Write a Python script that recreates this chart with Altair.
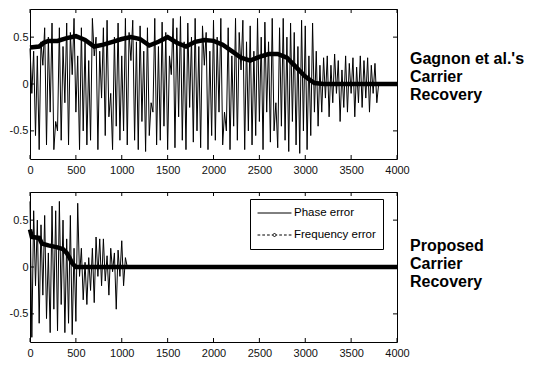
import altair as alt
import pandas as pd

# ---------------- data ----------------
x_ticks = [0, 500, 1000, 1500, 2000, 2500, 3000, 3500, 4000]
y_ticks = [-0.5, 0, 0.5]

# top panel: phase error sampled every 20 samples (0..3800), then 0 at 4000
top_phase = [
    0.38, -0.1, 0.35, -0.55, 0.3, -0.7, 0.45, 0.2, 0.6, -0.65,
    0.5, -0.3, 0.65, -0.7, -0.4, -0.5, 0.6, -0.6, 0.4, -0.2,
    0.65, -0.65, 0.55, 0.1, 0.7, -0.3, 0.3, -0.7, 0.6, -0.5,
    0.45, -0.65, 0.25, -0.6, 0.7, 0.3, 0.5, -0.7, 0.35, -0.15,
    0.6, -0.55, 0.68, -0.35, -0.1, -0.7, 0.5, -0.45, 0.65, -0.6,
    0.3, -0.5, 0.7, -0.65, 0.55, 0.25, 0.68, -0.6, 0.45, -0.7,
    0.62, -0.4, 0.35, -0.72, 0.6, -0.55, -0.2, -0.3, 0.7, -0.65,
    0.4, -0.6, 0.66, -0.45, 0.55, -0.7, 0.3, 0.1, 0.7, -0.68,
    0.6, -0.35, 0.72, -0.6, 0.45, -0.7, 0.65, -0.25, 0.5, -0.62,
    0.7, -0.5, 0.4, -0.68, 0.62, 0.2, 0.55, -0.7, 0.35, -0.55,
    0.68, -0.6, 0.5, -0.3, 0.7, -0.65, -0.3, -0.5, 0.6, -0.7,
    0.3, -0.45, 0.7, -0.6, 0.55, 0.15, 0.68, -0.7, 0.45, -0.5,
    0.62, -0.65, 0.35, -0.55, 0.7, -0.4, 0.5, -0.7, 0.66, -0.3,
    0.45, -0.62, 0.7, -0.5, -0.2, -0.68, 0.6, -0.45, 0.7, -0.6,
    0.5, -0.72, 0.65, -0.4, 0.55, -0.65, 0.4, -0.74, 0.68, -0.5,
    0.62, -0.7, 0.3, -0.55, 0.65, -0.3, 0.35, -0.45, 0.2, -0.3,
    0.28, -0.15, 0.3, -0.35, 0.2, -0.2, 0.32, -0.1, 0.25, -0.4,
    0.15, -0.25, 0.3, -0.3, 0.22, -0.1, 0.28, -0.35, 0.18, -0.2,
    0.3, -0.25, 0.25, -0.15, 0.28, -0.3, 0.2, -0.1, 0.22, -0.2,
    0.0, 0.0,
]
top_phase_x = list(range(0, 3801, 20)) + [4000]

# top panel: frequency error
top_freq_x = [0, 100, 150, 200, 300, 400, 500, 600, 700, 800, 900, 1000, 1100,
              1200, 1300, 1400, 1500, 1600, 1700, 1800, 1900, 2000, 2100, 2200,
              2300, 2400, 2500, 2600, 2700, 2800, 2900, 3000, 3100, 3200, 3400,
              3600, 3800, 4000]
top_freq = [0.39, 0.40, 0.44, 0.46, 0.46, 0.49, 0.51, 0.47, 0.40, 0.42, 0.45,
            0.48, 0.50, 0.48, 0.41, 0.45, 0.50, 0.44, 0.40, 0.45, 0.47, 0.46,
            0.42, 0.35, 0.28, 0.25, 0.29, 0.32, 0.32, 0.28, 0.18, 0.08, 0.01,
            0.0, 0.0, 0.0, 0.0, 0.0]

# bottom panel: phase error every 20 samples (0..1060), then 0 at 4000
bot_phase = [
    0.7, -0.75, 0.6, -0.2, 0.5, -0.6, 0.45, -0.3, 0.55, -0.55,
    0.15, -0.7, 0.65, -0.45, 0.6, -0.68, 0.7, -0.4, 0.5, -0.7,
    0.3, -0.6, 0.55, -0.72, 0.2, -0.58, 0.68, -0.1, 0.2, -0.35,
    0.05, -0.4, 0.1, -0.25, 0.2, -0.38, 0.32, -0.1, 0.3, -0.2,
    0.3, -0.15, 0.12, -0.3, 0.2, -0.05, 0.15, -0.45, 0.18, -0.1,
    0.28, -0.2, 0.1, 0.0,
    0.0,
]
bot_phase_x = list(range(0, 1061, 20)) + [4000]

# bottom panel: frequency error
bot_freq_x = [0, 20, 100, 130, 200, 300, 360, 400, 430, 460, 500, 1000, 2000,
              3000, 4000]
bot_freq = [0.40, 0.32, 0.31, 0.25, 0.23, 0.21, 0.19, 0.15, 0.10, 0.04, 0.0,
            0.0, 0.0, 0.0, 0.0]

series_names = ["Phase error", "Frequency error"]
top_label = ["Gagnon et al.'s", "Carrier", "Recovery"]
bot_label = ["Proposed", "Carrier", "Recovery"]

# ---------------- chart ----------------
W, H = 367, 150
FONT = "Liberation Sans, Arial"
xs = alt.Scale(domain=[0, 4000], nice=False)
ys = alt.Scale(domain=[-0.8, 0.8], nice=False)

x_axis = alt.Axis(values=x_ticks, title=None, grid=False, ticks=False, domain=False,
                  labelFont=FONT, labelFontSize=11, labelColor="#111",
                  labelPadding=5, labelFlush=False, labelExpr="'' + datum.value")
y_axis = alt.Axis(values=y_ticks, title=None, grid=False, ticks=False, domain=False,
                  labelFont=FONT, labelFontSize=11, labelColor="#111",
                  labelPadding=2, labelExpr="'' + datum.value")

xt = pd.DataFrame({"x": x_ticks})
yt = pd.DataFrame({"y": y_ticks})


def tick_layers():
    bot = alt.Chart(xt).mark_rule(color="black", strokeWidth=1).encode(
        x=alt.X("x:Q", scale=xs), y=alt.value(H), y2=alt.value(H - 4))
    top = alt.Chart(xt).mark_rule(color="black", strokeWidth=1).encode(
        x=alt.X("x:Q", scale=xs), y=alt.value(0), y2=alt.value(4))
    left = alt.Chart(yt).mark_rule(color="black", strokeWidth=1).encode(
        y=alt.Y("y:Q", scale=ys), x=alt.value(0), x2=alt.value(4))
    right = alt.Chart(yt).mark_rule(color="black", strokeWidth=1).encode(
        y=alt.Y("y:Q", scale=ys), x=alt.value(W - 4), x2=alt.value(W))
    return [bot, top, left, right]


def panel(px, py, fx, fy, label, label_y, with_legend):
    pdf = pd.DataFrame({"x": px, "y": py})
    fdf = pd.DataFrame({"x": fx, "y": fy})
    phase = alt.Chart(pdf).mark_line(color="black", strokeWidth=1).encode(
        x=alt.X("x:Q", scale=xs, axis=x_axis),
        y=alt.Y("y:Q", scale=ys, axis=y_axis),
        order="x:Q",
    )
    freq = alt.Chart(fdf).mark_line(color="black", strokeWidth=4.5, clip=False).encode(
        x=alt.X("x:Q", scale=xs), y=alt.Y("y:Q", scale=ys))
    txt = alt.Chart(pd.DataFrame({"t": ["\n".join(label)]})).mark_text(
        align="left", baseline="top", lineBreak="\n", lineHeight=18,
        font=FONT, fontSize=16, fontWeight="bold", color="black",
    ).encode(text="t:N", x=alt.value(W + 13), y=alt.value(label_y))
    layers = [phase, freq] + tick_layers() + [txt]
    if with_legend:
        ldf = pd.DataFrame({"s": series_names})
        leg = alt.Chart(ldf).mark_point(filled=False, opacity=0, color="black",
                                         strokeWidth=1).encode(
            x=alt.value(0), y=alt.value(0),
            shape=alt.Shape(
                "s:N",
                scale=alt.Scale(
                    domain=series_names,
                    range=[
                        "M-1,0H1",
                        "M-1,0H-0.84M-0.72,0H-0.56M-0.44,0H-0.28M-0.16,0H-0.1"
                        "M0.1,0H0.16M0.28,0H0.44M0.56,0H0.72M0.84,0H1"
                        "M0.09,0A0.09,0.09 0 1,1 -0.09,0A0.09,0.09 0 1,1 0.09,0Z",
                    ],
                ),
                legend=alt.Legend(
                    title=None, orient="none", legendX=220, legendY=7,
                    strokeColor="black", fillColor="white", padding=7,
                    symbolSize=1150, symbolStrokeColor="black",
                    symbolFillColor="black", symbolStrokeWidth=1,
                    symbolOpacity=1, labelFont=FONT, labelFontSize=11.5,
                    labelColor="black", labelOffset=2, rowPadding=8,
                    clipHeight=14,
                ),
            ),
        )
        layers.append(leg)
    return alt.layer(*layers).properties(width=W, height=H)


top = panel(top_phase_x, top_phase, top_freq_x, top_freq, top_label, 42, False)
bottom = panel(bot_phase_x, bot_phase, bot_freq_x, bot_freq, bot_label, 46, True)

chart = alt.vconcat(top, bottom, spacing=15).resolve_scale(
    shape="independent").resolve_legend(shape="independent").properties(
    padding=0
).configure(background="white").configure_view(stroke="black", strokeWidth=1)

chart.save("out.html", embed_options={"renderer": "svg", "actions": False})
